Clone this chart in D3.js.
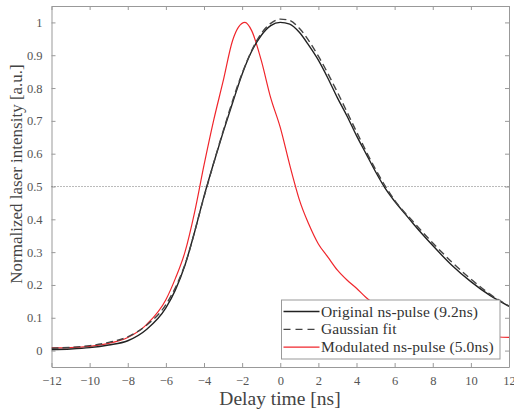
<!DOCTYPE html>
<html>
<head>
<meta charset="utf-8">
<script src="https://cdnjs.cloudflare.com/ajax/libs/d3/7.8.5/d3.min.js"></script>
<style>
  body { margin: 0; background: #fff; }
  svg { display: block; }
  text { font-family: "Liberation Serif", "DejaVu Serif", serif; }
</style>
</head>
<body>
<div id="chart"></div>
<script>
// delay time [ns] and normalized intensity
var origX = [-12, -11, -10, -9, -8, -7, -6, -5.5, -5, -4.5, -4, -3.5, -3, -2.5, -2, -1.5, -1, -0.5, 0, 0.5, 1, 1.5, 2, 2.5, 3, 3.5, 4, 4.5, 5, 5.5, 6, 6.5, 7, 8, 9, 10, 11, 12];
var origY = [0.003, 0.005, 0.009, 0.017, 0.03, 0.065, 0.13, 0.185, 0.26, 0.36, 0.47, 0.57, 0.665, 0.755, 0.842, 0.912, 0.96, 0.99, 1.0, 0.995, 0.97, 0.93, 0.885, 0.83, 0.77, 0.715, 0.655, 0.6, 0.545, 0.495, 0.455, 0.42, 0.385, 0.32, 0.26, 0.21, 0.168, 0.135];

var fitX = [-12, -11, -10, -9, -8, -7, -6, -5, -4, -3, -2, -1, -0.5, 0, 0.5, 1, 2, 3, 4, 5, 6, 7, 8, 9, 10, 11, 12];
var fitY = [0.007, 0.01, 0.015, 0.025, 0.042, 0.078, 0.14, 0.262, 0.468, 0.668, 0.845, 0.966, 0.997, 1.01, 1.006, 0.982, 0.897, 0.787, 0.667, 0.552, 0.458, 0.391, 0.328, 0.27, 0.218, 0.172, 0.136];

var modX = [-12, -11, -10, -9, -8, -7, -6, -5.5, -5, -4.5, -4, -3.5, -3, -2.5, -2.2, -1.85, -1.5, -1, -0.5, 0, 0.5, 0.8, 1, 1.5, 2, 2.5, 3, 3.5, 4, 4.5, 5, 6, 7, 8, 9, 10, 11, 12];
var modY = [0.008, 0.009, 0.013, 0.022, 0.04, 0.08, 0.155, 0.22, 0.3, 0.42, 0.565, 0.7, 0.82, 0.945, 0.985, 1.0, 0.975, 0.885, 0.77, 0.68, 0.565, 0.5, 0.46, 0.385, 0.325, 0.285, 0.245, 0.215, 0.19, 0.162, 0.14, 0.105, 0.08, 0.065, 0.055, 0.048, 0.043, 0.04];

var xTicks = [-12, -10, -8, -6, -4, -2, 0, 2, 4, 6, 8, 10, 12];
var yTicks = [0, 0.1, 0.2, 0.3, 0.4, 0.5, 0.6, 0.7, 0.8, 0.9, 1];
var halfMax = 0.5;

var seriesNames = ["Original ns-pulse (9.2ns)", "Gaussian fit", "Modulated ns-pulse (5.0ns)"];

var svgWidth = 514, svgHeight = 410;
var margin = { top: 6, right: 5, bottom: 43, left: 51.5 };
var width = svgWidth - margin.left - margin.right;
var height = svgHeight - margin.top - margin.bottom;

var svg = d3.select("#chart").append("svg")
  .attr("width", svgWidth)
  .attr("height", svgHeight);

var chartGroup = svg.append("g")
  .attr("transform", `translate(${margin.left}, ${margin.top})`);

var x = d3.scaleLinear().domain([-12, 12]).range([0, width]);
var y = d3.scaleLinear().domain([-0.05, 1.05]).range([height, 0]);

var axisColor = "#999";
var labelColor = "#555";

// axes with inward ticks, box all round
function styleAxis(g) {
  g.select(".domain").attr("stroke", axisColor);
  g.selectAll(".tick line").attr("stroke", axisColor);
  g.selectAll(".tick text").attr("fill", labelColor).attr("font-size", "12.5px");
}

chartGroup.append("g")
  .attr("transform", `translate(0, ${height})`)
  .call(d3.axisBottom(x).tickValues(xTicks).tickSize(-4).tickPadding(9).tickSizeOuter(0))
  .call(styleAxis);

chartGroup.append("g")
  .call(d3.axisLeft(y).tickValues(yTicks).tickFormat(d3.format("")).tickSize(-4).tickPadding(9).tickSizeOuter(0))
  .call(styleAxis);

chartGroup.append("g")
  .call(d3.axisTop(x).tickValues(xTicks).tickFormat("").tickSize(-4).tickSizeOuter(0))
  .call(styleAxis);

chartGroup.append("g")
  .attr("transform", `translate(${width}, 0)`)
  .call(d3.axisRight(y).tickValues(yTicks).tickFormat("").tickSize(-4).tickSizeOuter(0))
  .call(styleAxis);

// half maximum line
chartGroup.append("line")
  .attr("x1", 0).attr("x2", width)
  .attr("y1", y(halfMax)).attr("y2", y(halfMax))
  .attr("stroke", "#777")
  .attr("stroke-width", 1)
  .attr("stroke-dasharray", "1,2");

var line = d3.line()
  .x(d => x(d[0]))
  .y(d => y(d[1]))
  .curve(d3.curveMonotoneX);

svg.append("clipPath").attr("id", "plotclip")
  .append("rect").attr("width", width).attr("height", height);

var curves = chartGroup.append("g").attr("clip-path", "url(#plotclip)");

curves.append("path")
  .datum(modX.map((v, i) => [v, modY[i]]))
  .attr("d", line)
  .attr("fill", "none")
  .attr("stroke", "#f0262c")
  .attr("stroke-width", 1.2);

curves.append("path")
  .datum(origX.map((v, i) => [v, origY[i]]))
  .attr("d", line)
  .attr("fill", "none")
  .attr("stroke", "#222")
  .attr("stroke-width", 1.4);

curves.append("path")
  .datum(fitX.map((v, i) => [v, fitY[i]]))
  .attr("d", line)
  .attr("fill", "none")
  .attr("stroke", "#444")
  .attr("stroke-width", 1.4)
  .attr("stroke-dasharray", "7,4");

// legend
var legend = chartGroup.append("g")
  .attr("transform", `translate(${281.5 - margin.left}, ${300 - margin.top})`);

legend.append("rect")
  .attr("width", 218.5)
  .attr("height", 59)
  .attr("fill", "#fff")
  .attr("stroke", "#999")
  .attr("stroke-width", 1);

var legendStyles = [
  { color: "#222", dash: null },
  { color: "#444", dash: "7,5" },
  { color: "#f0262c", dash: null }
];

seriesNames.forEach(function(name, i) {
  var rowY = 11.5 + i * 17.8;
  legend.append("line")
    .attr("x1", 2).attr("x2", 38)
    .attr("y1", rowY).attr("y2", rowY)
    .attr("stroke", legendStyles[i].color)
    .attr("stroke-width", 1.3)
    .attr("stroke-dasharray", legendStyles[i].dash);
  legend.append("text")
    .attr("x", 39.5)
    .attr("y", rowY + 5)
    .attr("font-size", "15.5px")
    .attr("letter-spacing", "0.1px")
    .attr("fill", "#333")
    .text(name);
});

// axis titles
svg.append("text")
  .attr("x", 280)
  .attr("y", 405)
  .attr("text-anchor", "middle")
  .attr("font-size", "19.5px")
  .attr("fill", "#444")
  .text("Delay time [ns]");

svg.append("text")
  .attr("transform", "translate(22, 174) rotate(-90)")
  .attr("text-anchor", "middle")
  .attr("font-size", "17px")
  .attr("fill", "#444")
  .text("Normalized laser intensity [a.u.]");
</script>
</body>
</html>
